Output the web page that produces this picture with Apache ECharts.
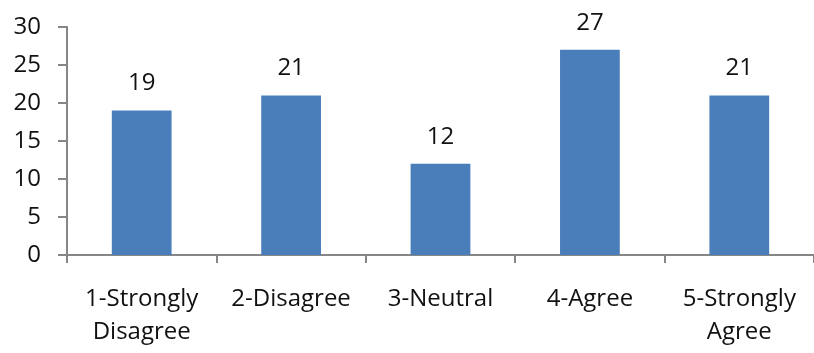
<!DOCTYPE html>
<html>
<head>
<meta charset="utf-8">
<script src="https://cdn.jsdelivr.net/npm/echarts@6/dist/echarts.min.js"></script>
<style>
  html, body { margin: 0; padding: 0; background: #fff; }
  #chart { width: 814px; height: 353px; }
</style>
</head>
<body>
<div id="chart"></div>
<script>
// Survey responses per Likert category
const categories = ['1-Strongly\nDisagree', '2-Disagree', '3-Neutral', '4-Agree', '5-Strongly\nAgree'];
const counts = [19, 21, 12, 27, 21];
const yTicks = { min: 0, max: 30, interval: 5 };

const FONT = 'Open Sans';
const TEXT = '#111111';
const AXIS = '#868686';

const chart = echarts.init(document.getElementById('chart'), null, { renderer: 'canvas' });
chart.setOption({
  animation: false,
  grid: { left: 67, right: 0, top: 27, bottom: 98, containLabel: false },
  xAxis: {
    type: 'category',
    data: categories,
    axisLine: { lineStyle: { color: AXIS, width: 2 } },
    axisTick: { show: true, length: 8, alignWithLabel: false, lineStyle: { color: AXIS, width: 2 } },
    axisLabel: {
      color: TEXT, fontFamily: FONT, fontSize: 24, margin: 28, lineHeight: 33, interval: 0
    }
  },
  yAxis: {
    type: 'value',
    min: yTicks.min, max: yTicks.max, interval: yTicks.interval,
    axisLine: { show: true, lineStyle: { color: AXIS, width: 2 } },
    axisTick: { show: true, length: 9, lineStyle: { color: AXIS, width: 2 } },
    splitLine: { show: false },
    axisLabel: { color: TEXT, fontFamily: FONT, fontSize: 24, margin: 26 }
  },
  series: [{
    type: 'bar',
    data: counts,
    barWidth: '40%',
    itemStyle: { color: '#4a7ebb' },
    label: {
      show: true, position: 'top', distance: 15,
      color: TEXT, fontFamily: FONT, fontSize: 24
    }
  }]
});
</script>
</body>
</html>
